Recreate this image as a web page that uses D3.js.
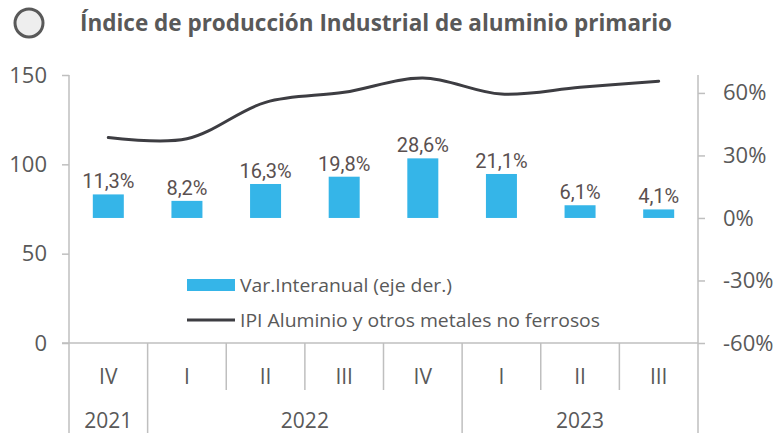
<!DOCTYPE html>
<html><head><meta charset="utf-8">
<script src="https://cdn.jsdelivr.net/npm/d3@7"></script>
<style>body{margin:0;background:#fff}svg{display:block}</style>
</head><body>
<svg id="c" width="779" height="433"></svg>
<script>
const quarters = ["IV","I","II","III","IV","I","II","III"];
const years = [{label:"2021", from:0, to:0},{label:"2022", from:1, to:4},{label:"2023", from:5, to:7}];
const varInteranual = [11.3, 8.2, 16.3, 19.8, 28.6, 21.1, 6.1, 4.1];
const ipi = [115.0, 114.3, 134.7, 140.3, 148.3, 139.3, 143.1, 146.5];
const leftTicks = [0, 50, 100, 150];
const rightTicks = [-60, -30, 0, 30, 60];
const title = "Índice de producción Industrial de aluminio primario";
const legendLabels = ["Var.Interanual (eje der.)", "IPI Aluminio y otros metales no ferrosos"];

(function(){
const svg = d3.select("#c");
const font = "'Open Sans', 'Noto Sans', sans-serif";
const txt = "#595959", axisCol = "#bfbfbf", barCol = "#35b5e8", lineCol = "#3d3d42";

const pL = 69, pR = 698, pT = 75, pB = 343;
const idx = d3.range(quarters.length);
const x = d3.scaleBand().domain(idx).range([pL, pR]);
const yL = d3.scaleLinear().domain([0, 150]).range([pB, pT]);
const yR = d3.scaleLinear().domain([-60, 68.6]).range([pB, pT]);

// title
svg.append("circle").attr("cx", 29).attr("cy", 23).attr("r", 14)
  .attr("fill", "#eeeeee").attr("stroke", "#595959").attr("stroke-width", 3);
svg.append("text").attr("x", 80).attr("y", 31).text(title)
  .attr("font-family", font).attr("font-weight", 700).attr("font-size", 24)
  .attr("fill", txt).attr("textLength", 592).attr("lengthAdjust", "spacingAndGlyphs");

// left axis
const gL = svg.append("g").attr("transform", `translate(${pL},0)`)
  .call(d3.axisLeft(yL).tickValues(leftTicks).tickSize(7).tickPadding(15));
gL.select(".domain").remove();
gL.selectAll(".tick line").attr("stroke", axisCol).attr("stroke-width", 1.5);
gL.selectAll(".tick text").attr("font-family", font).attr("font-size", 22).attr("fill", txt);
svg.append("line").attr("x1", pL).attr("x2", pL).attr("y1", pT).attr("y2", 433)
  .attr("stroke", axisCol).attr("stroke-width", 1.5);

// right axis
const gR = svg.append("g").attr("transform", `translate(${pR},0)`)
  .call(d3.axisRight(yR).tickValues(rightTicks).tickSize(7).tickPadding(18).tickFormat(d => d + "%"));
gR.select(".domain").remove();
gR.selectAll(".tick line").attr("stroke", axisCol).attr("stroke-width", 1.5);
gR.selectAll(".tick text").attr("font-family", font).attr("font-size", 22).attr("fill", txt);
svg.append("line").attr("x1", pR).attr("x2", pR).attr("y1", pT).attr("y2", 433)
  .attr("stroke", axisCol).attr("stroke-width", 1.5);

// bottom axis line
svg.append("line").attr("x1", pL - 7).attr("x2", pR).attr("y1", pB).attr("y2", pB)
  .attr("stroke", axisCol).attr("stroke-width", 1.5);

// category separators
const yearStarts = new Set(years.map(y => y.from));
idx.slice(1).forEach(i => {
  const xx = x(i);
  svg.append("line").attr("x1", xx).attr("x2", xx).attr("y1", pB)
    .attr("y2", yearStarts.has(i) ? 433 : 390)
    .attr("stroke", axisCol).attr("stroke-width", 1.5);
});
svg.selectAll("text.q").data(quarters).join("text").attr("class", "q")
  .attr("x", (d, i) => x(i) + x.bandwidth() / 2).attr("y", 384)
  .attr("text-anchor", "middle").attr("font-family", font).attr("font-size", 21)
  .attr("fill", txt).text(d => d);
svg.selectAll("text.yr").data(years).join("text").attr("class", "yr")
  .attr("x", d => (x(d.from) + x(d.to) + x.bandwidth()) / 2).attr("y", 428)
  .attr("text-anchor", "middle").attr("font-family", font).attr("font-size", 21)
  .attr("fill", txt).text(d => d.label);

// bars
const bw = 31;
svg.selectAll("rect.bar").data(varInteranual).join("rect").attr("class", "bar")
  .attr("x", (d, i) => x(i) + x.bandwidth() / 2 - bw / 2)
  .attr("width", bw)
  .attr("y", d => yR(Math.max(0, d)))
  .attr("height", d => Math.abs(yR(d) - yR(0)))
  .attr("fill", barCol);
svg.selectAll("text.lbl").data(varInteranual).join("text").attr("class", "lbl")
  .attr("x", (d, i) => x(i) + x.bandwidth() / 2)
  .attr("y", d => yR(d) - 6)
  .attr("text-anchor", "middle").attr("font-family", "Roboto, sans-serif").attr("font-size", 20)
  .attr("fill", "#5a5050").text(d => d.toFixed(1).replace(".", ",") + "%");

// line
const line = d3.line().x((d, i) => x(i) + x.bandwidth() / 2).y(d => yL(d)).curve(d3.curveCatmullRom.alpha(0.5));
svg.append("path").attr("d", line(ipi)).attr("fill", "none")
  .attr("stroke", lineCol).attr("stroke-width", 3).attr("stroke-linecap", "round");

// legend
svg.append("rect").attr("x", 187).attr("y", 279).attr("width", 48).attr("height", 12).attr("fill", barCol);
svg.append("line").attr("x1", 187).attr("x2", 235).attr("y1", 320).attr("y2", 320)
  .attr("stroke", lineCol).attr("stroke-width", 3);
const legendWidths = [212, 360];
legendLabels.forEach((t, i) => {
  svg.append("text").attr("x", 240).attr("y", 292 + i * 35).text(t)
    .attr("font-family", font).attr("font-size", 19).attr("fill", txt)
    .attr("textLength", legendWidths[i]).attr("lengthAdjust", "spacingAndGlyphs");
});
})();
</script>
</body></html>
